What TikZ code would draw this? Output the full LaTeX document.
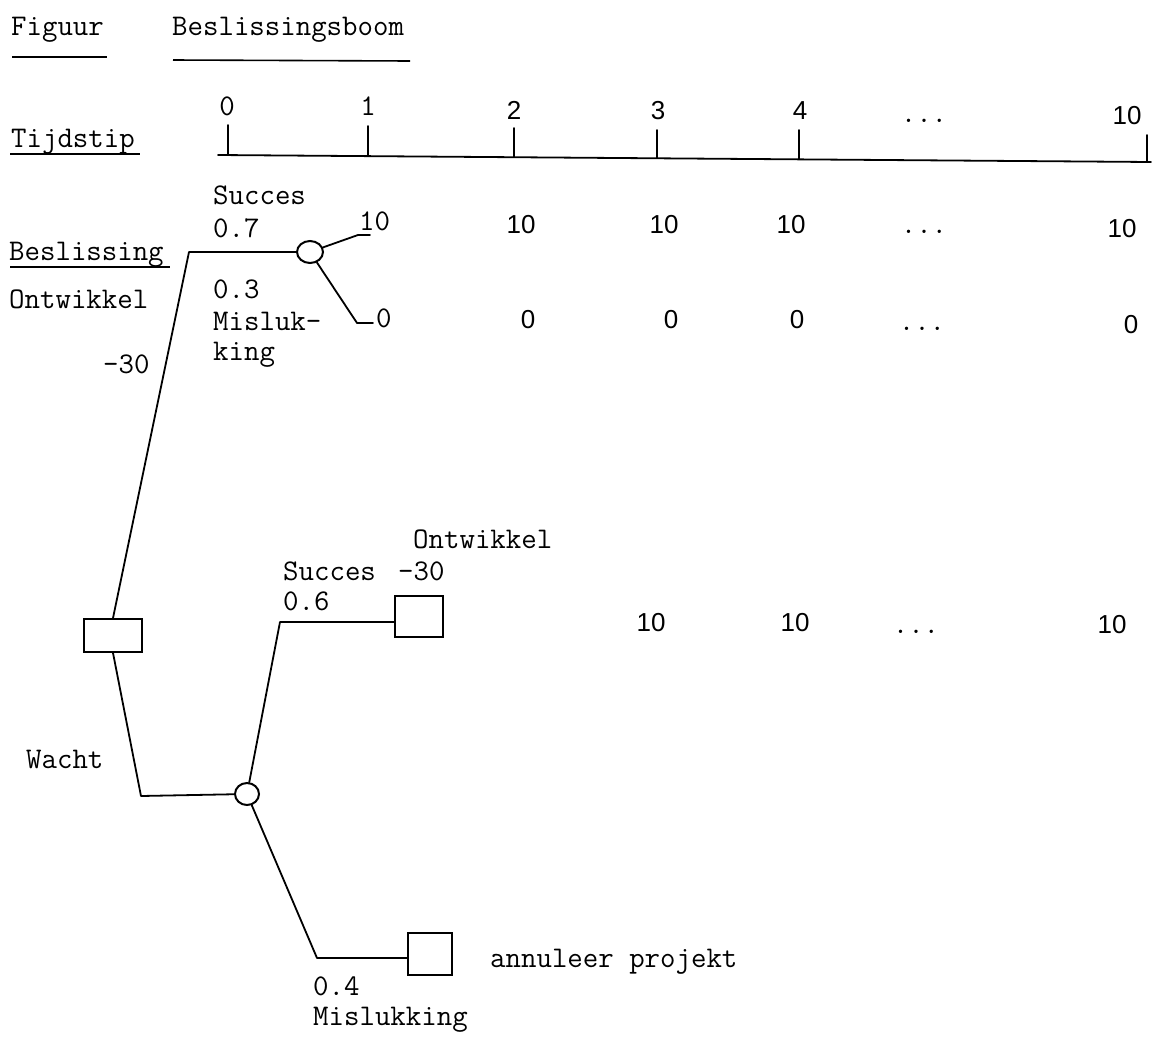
\documentclass[tikz,border=0pt]{standalone}
\usepackage{fontspec}
\newfontfamily\numfont{Liberation Sans}
\usetikzlibrary{shapes.geometric}
\newcommand\twf{\ttfamily\fontsize{30}{34}\selectfont}
\newcommand\nmf{\numfont\fontsize{26}{30}\selectfont}
\begin{document}
\begin{tikzpicture}[x=1pt,y=-1pt,
  tw/.style={font=\twf, inner sep=0pt, anchor=base west},
  twc/.style={font=\twf, inner sep=0pt, anchor=base},
  nm/.style={font=\nmf, inner sep=0pt, anchor=base},
  ln/.style={line width=1.8pt, line join=round, line cap=round},
  uline/.style={line width=1.6pt},
  decbox/.style={draw, line width=1.8pt, rectangle, inner sep=0pt},
  chance/.style={draw, line width=2pt, ellipse, inner sep=0pt}]
\useasboundingbox[fill=white] (0,0) rectangle (1160,1039);

% header
\node[tw] (fig) at (11,35) {Figuur};
\node[tw] (title) at (172,35) {Beslissingsboom};
\draw[uline] (12,57) -- (107,57);
\draw[uline] (173,60) -- (410,61);

% time axis
\node[tw] (tijd) at (11,147) {Tijdstip};
\draw[uline] (10,154) -- (140,154);
\coordinate (axs) at (218,155);
\coordinate (axe) at (1151,162);
\draw[ln] (axs) -- (axe);
\draw[ln] (228,125) -- (228,155);
\draw[ln] (368,126) -- (368,156);
\draw[ln] (514,128) -- (514,157);
\draw[ln] (657,130) -- (657,158);
\draw[ln] (799,130) -- (799,159);
\draw[ln] (1147,135) -- (1147,162);
\node[twc] (l0) at (227,115) {0};
\node[twc] (l1) at (368,115) {1};
\node[nm] (l2) at (514,119) {2};
\node[nm] (l3) at (658,119) {3};
\node[nm] (l4) at (800,119) {4};
\node[twc] (ld) at (924,122) {...};
\node[nm] (l10) at (1127,124) {10};

% left labels
\node[tw] (besl) at (9,260) {Beslissing};
\draw[uline] (10,267) -- (170,267);
\node[tw] (ontw) at (9,308) {Ontwikkel};
\node[tw] (m30) at (103,373) {-30};
\node[tw] (wacht) at (26,768) {Wacht};

% decision and chance nodes
\node[decbox, minimum width=58pt, minimum height=33pt] (d1) at (113,635.5) {};
\node[chance, minimum width=26pt, minimum height=22pt] (c1) at (310,252) {};
\node[chance, minimum width=24pt, minimum height=22pt] (c2) at (247,794) {};
\node[decbox, minimum width=48pt, minimum height=41pt] (d2) at (419,616.5) {};
\node[decbox, minimum width=44pt, minimum height=42pt] (d3) at (430,954) {};

% corner points
\coordinate (k1) at (189,252);
\coordinate (u1) at (358,235);
\coordinate (u1e) at (370,235);
\coordinate (w1) at (357,323);
\coordinate (w1e) at (373,323);
\coordinate (k2) at (141,796);
\coordinate (k3) at (280,622);
\coordinate (k4) at (317,958);

% connectors
\draw[ln] (d1.north) -- (k1) -- (c1);
\draw[ln] (c1) -- (u1) -- (u1e);
\draw[ln] (c1) -- (w1) -- (w1e);
\draw[ln] (d1.south) -- (k2) -- (c2);
\draw[ln] (c2) -- (k3) -- (k3 -| d2.west);
\draw[ln] (c2) -- (k4) -- (k4 -| d3.west);

% branch labels (upper)
\node[tw] (suc1) at (213,204) {Succes};
\node[tw] (p07) at (213,237) {0.7};
\node[tw] (p03) at (213,298) {0.3};
\node[tw] (mis1) at (213,330) {Misluk-};
\node[tw] (mis1b) at (213,360) {king};

% row 1: payoffs success
\node[tw] (r1a) at (359,230) {10};
\node[nm] (r1b) at (521,233) {10};
\node[nm] (r1c) at (664,233) {10};
\node[nm] (r1d) at (791,233) {10};
\node[twc] (r1e) at (924,233) {...};
\node[nm] (r1f) at (1122,237) {10};

% row 2: payoffs failure
\node[tw] (r2a) at (376,327) {0};
\node[nm] (r2b) at (528,328) {0};
\node[nm] (r2c) at (671,328) {0};
\node[nm] (r2d) at (797,328) {0};
\node[twc] (r2e) at (922,330) {...};
\node[nm] (r2f) at (1131,333) {0};

% lower branch labels
\node[tw] (ontw2) at (413,548) {Ontwikkel};
\node[tw] (suc2) at (283,580) {Succes};
\node[tw] (m302) at (398,580) {-30};
\node[tw] (p06) at (283,610) {0.6};

% row 3
\node[nm] (r3c) at (651,631) {10};
\node[nm] (r3d) at (795,631) {10};
\node[twc] (r3e) at (916,633) {...};
\node[nm] (r3f) at (1112,633) {10};

% failure branch
\node[tw] (ann) at (490,967) {annuleer projekt};
\node[tw] (p04) at (313,995) {0.4};
\node[tw] (mis2) at (313,1025) {Mislukking};
\end{tikzpicture}
\end{document}
